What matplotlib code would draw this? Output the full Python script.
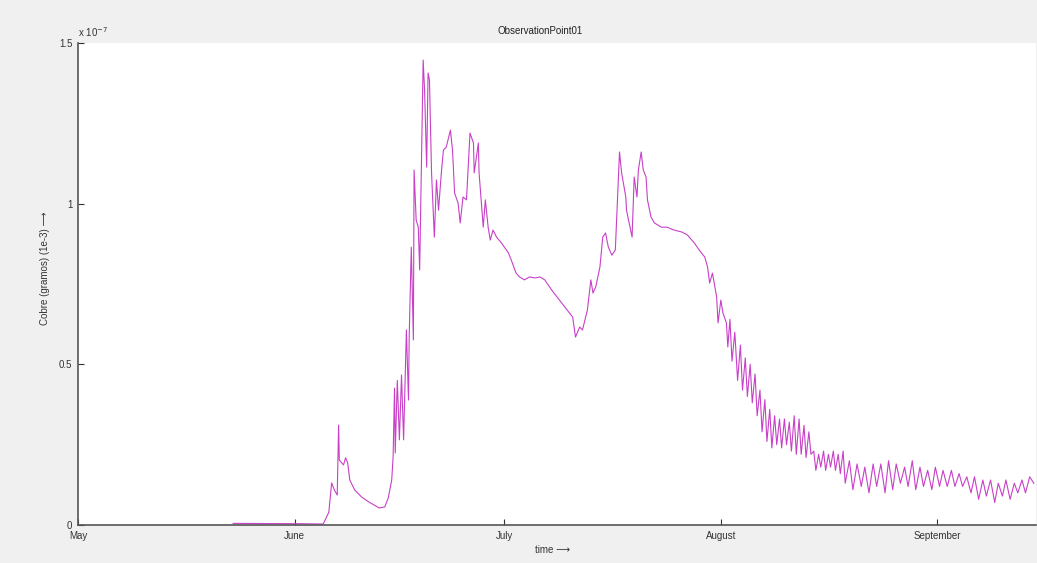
import numpy as np
from matplotlib import pyplot as plt

# days since 1 May, concentration in units of 1e-7
day = [22.2, 32.0, 35.1, 35.9, 36.3, 36.7, 37.1, 37.3, 37.4, 38.0, 38.3, 38.6, 38.9, 39.6,
       40.6, 41.6, 42.4, 43.1, 43.9, 44.4, 44.9, 45.1, 45.3, 45.4, 45.7, 46.0, 46.3, 46.6,
       47.0, 47.3, 47.4, 47.7, 48.0, 48.1, 48.4, 48.7, 48.9, 49.4, 49.6, 49.9, 50.1, 50.3,
       50.6, 51.0, 51.3, 51.6, 52.0, 52.3, 52.7, 53.3, 53.6, 53.9, 54.4, 54.7, 55.1, 55.6,
       56.1, 56.6, 56.7, 57.3, 57.4, 58.0, 58.3, 58.7, 59.0, 59.4, 59.9, 60.6, 61.6, 62.0,
       62.7, 63.2, 63.9, 64.6, 65.4, 66.1, 66.8, 67.8, 68.9, 69.7, 70.8, 71.2, 71.8, 72.2,
       72.9, 73.4, 73.7, 74.1, 74.7, 75.1, 75.5, 75.9, 76.4, 76.9, 77.5, 77.8, 78.4, 78.5,
       79.3, 79.6, 80.0, 80.2, 80.6, 80.9, 81.3, 81.5, 82.0, 82.5, 83.5, 84.3, 85.3, 86.4,
       87.2, 88.2, 88.9, 89.7, 90.1, 90.4, 90.8, 91.4, 91.6, 92.0, 92.3, 92.8, 93.0,
       93.3, 93.6, 94.0, 94.4, 94.8, 95.1, 95.5, 95.8, 96.2, 96.5, 96.9, 97.2, 97.6, 97.9,
       98.3, 98.6, 99.0, 99.3, 99.7, 100.0, 100.4, 100.7, 101.1, 101.4, 101.8, 102.1, 102.5,
       102.8, 103.2, 103.5, 103.9, 104.2, 104.6, 104.9, 105.3, 105.6, 106.0, 106.3, 106.7,
       107.0, 107.4, 107.7, 108.1, 108.4, 108.8, 109.1, 109.5, 109.8,
       110.4, 110.9, 111.5, 112.1, 112.6, 113.2, 113.8, 114.3, 114.9, 115.5, 116.0, 116.6,
       117.1, 117.7, 118.3, 118.8, 119.4, 119.9, 120.5, 121.0, 121.6, 122.2, 122.7, 123.3,
       123.8, 124.4, 125.0, 125.5, 126.1, 126.6, 127.2, 127.8, 128.3, 128.9, 129.5, 130.0,
       130.6, 131.2, 131.7, 132.3, 132.8, 133.4, 134.0, 134.5, 135.1, 135.6, 136.2, 136.8]
conc = [0.005, 0.004, 0.003, 0.040, 0.131, 0.109, 0.093, 0.311, 0.202, 0.187, 0.209, 0.193, 0.140, 0.109,
        0.087, 0.072, 0.062, 0.053, 0.056, 0.084, 0.140, 0.212, 0.426, 0.224, 0.450, 0.265, 0.467, 0.265,
        0.607, 0.389, 0.585, 0.865, 0.576, 1.105, 0.949, 0.927, 0.794, 1.447, 1.354, 1.114, 1.407, 1.385,
        1.096, 0.896, 1.074, 0.980, 1.096, 1.167, 1.176, 1.229, 1.167, 1.033, 1.002, 0.940, 1.021, 1.012,
        1.220, 1.189, 1.096, 1.189, 1.096, 0.927, 1.012, 0.927, 0.887, 0.918, 0.896, 0.878, 0.847, 0.825,
        0.784, 0.772, 0.763, 0.772, 0.769, 0.772, 0.763, 0.731, 0.700, 0.678, 0.647, 0.585, 0.616, 0.607,
        0.669, 0.763, 0.722, 0.741, 0.803, 0.896, 0.909, 0.865, 0.840, 0.856, 1.161, 1.096, 1.021, 0.980,
        0.896, 1.083, 1.021, 1.105, 1.161, 1.105, 1.083, 1.012, 0.959, 0.940, 0.927, 0.927, 0.918, 0.912,
        0.903, 0.878, 0.856, 0.834, 0.803, 0.753, 0.784, 0.710, 0.629, 0.700, 0.660, 0.629, 0.554,
        0.64, 0.51, 0.60, 0.45, 0.56, 0.42, 0.52, 0.40, 0.50, 0.38, 0.47, 0.34, 0.42, 0.29,
        0.39, 0.26, 0.36, 0.24, 0.34, 0.25, 0.33, 0.24, 0.33, 0.25, 0.32, 0.23, 0.34,
        0.22, 0.33, 0.22, 0.31, 0.21, 0.29, 0.22, 0.23, 0.17, 0.22, 0.18, 0.23,
        0.17, 0.22, 0.18, 0.23, 0.17, 0.22, 0.16, 0.23, 0.13,
        0.20, 0.11, 0.19, 0.12, 0.18, 0.10, 0.19, 0.12, 0.19, 0.10, 0.20, 0.11,
        0.19, 0.13, 0.18, 0.12, 0.20, 0.11, 0.18, 0.12, 0.17, 0.11, 0.18, 0.12,
        0.17, 0.12, 0.17, 0.12, 0.16, 0.12, 0.15, 0.10, 0.15, 0.08, 0.14, 0.09,
        0.14, 0.07, 0.13, 0.09, 0.14, 0.08, 0.13, 0.10, 0.14, 0.10, 0.15, 0.13]

month_days = [0, 31, 61, 92, 123]
month_names = ['May', 'June', 'July', 'August', 'September']
ytick_vals = [0, 0.5, 1, 1.5]
ytick_names = ['0', '0.5', '1', '1.5']

fonts = ['Liberation Sans', 'DejaVu Sans']
plt.rcParams['font.family'] = fonts

fig = plt.figure(figsize=(10.37, 5.63), dpi=100, facecolor='#f0f0f0')
ax = fig.add_axes([0.0752, 0.0675, 0.9238, 0.856])
ax.set_facecolor('white')

ax.plot(day, conc, color='#c840c8', linewidth=0.8)

ax.set_xlim(0, 137.1)
ax.set_ylim(0, 1.5)
ax.set_xticks(month_days)
ax.set_xticklabels(month_names)
ax.set_yticks(ytick_vals)
ax.set_yticklabels(ytick_names)
ax.tick_params(direction='in', length=4, width=0.8, colors='#333333', labelsize=7, pad=4)

for s in ['top', 'right']:
    ax.spines[s].set_visible(False)
for s in ['left', 'bottom']:
    ax.spines[s].set_color('#555555')
    ax.spines[s].set_linewidth(1.2)

ax.text(0.0, 1.008, r'x 10$^{-7}$', transform=ax.transAxes, fontsize=7, color='#333333',
        ha='left', va='bottom')
fig.text(540 / 1037, 1 - 31 / 563, 'ObservationPoint01', fontsize=7, color='#222222',
         ha='center', va='center')
fig.text(553 / 1037, 1 - 550 / 563, 'time \u27f6', fontsize=7, color='#333333',
         ha='center', va='center', family=fonts)
fig.text(45 / 1037, 1 - 268 / 563, 'Cobre (gramos) (1e-3) \u27f6', fontsize=7, color='#333333',
         ha='center', va='center', rotation=90, family=fonts)

fig.savefig('out.png', dpi=100, facecolor=fig.get_facecolor())
